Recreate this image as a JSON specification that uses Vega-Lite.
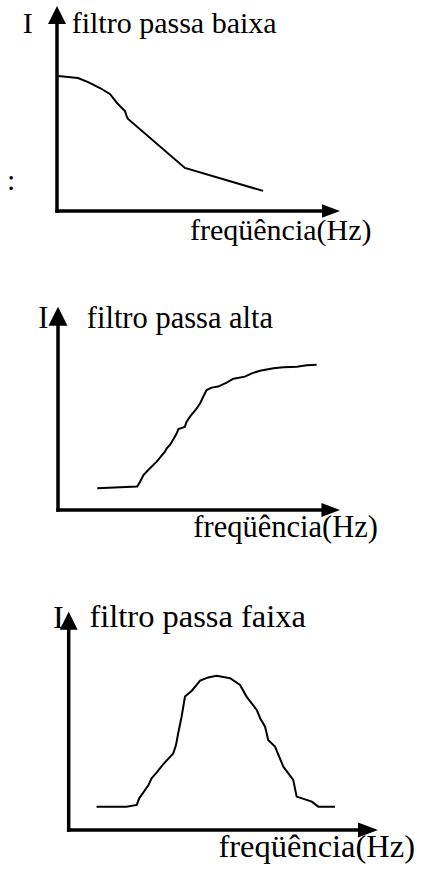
{
  "$schema": "https://vega.github.io/schema/vega-lite/v6.json",
  "background": "white",
  "padding": 0,
  "spacing": 0,
  "config": {"view": {"stroke": null}},
  "vconcat": [
    {
      "width": 425,
      "height": 275,
      "encoding": {
        "x": {"field": "f", "type": "quantitative", "axis": null, "scale": {"domain": [-20.14, 130.04], "nice": false, "zero": false}},
        "y": {"field": "i", "type": "quantitative", "axis": null, "scale": {"domain": [-31.22, 102.93], "nice": false, "zero": false}}
      },
      "layer": [
        {
          "data": {"values": [{"f": 0, "i": 0, "f2": 0, "i2": 95}, {"f": 0, "i": 0, "f2": 96, "i2": 0}]},
          "mark": {"type": "rule", "color": "black", "strokeWidth": 3.5, "strokeCap": "square"},
          "encoding": {"x2": {"field": "f2"}, "y2": {"field": "i2"}}
        },
        {
          "data": {"values": [{"f": 0, "i": 100}]},
          "mark": {"type": "point", "shape": "M0,0L1,2L-1,2Z", "filled": true, "size": 324, "color": "black", "opacity": 1, "strokeWidth": 0}
        },
        {
          "data": {"values": [{"f": 100, "i": 0}]},
          "mark": {"type": "point", "shape": "M0,0L-2.4,-0.9L-2.4,0.9Z", "filled": true, "size": 225, "color": "black", "opacity": 1, "strokeWidth": 0}
        },
        {
          "data": {"values": [
            {"f": 0.4, "i": 65.9}, {"f": 7.4, "i": 64.9}, {"f": 11.0, "i": 62.9}, {"f": 15.2, "i": 60.0},
            {"f": 18.7, "i": 57.1}, {"f": 21.2, "i": 52.7}, {"f": 24.0, "i": 48.8}, {"f": 24.7, "i": 45.9},
            {"f": 25.1, "i": 44.9}, {"f": 45.2, "i": 21.0}, {"f": 72.8, "i": 9.8}
          ]},
          "mark": {"type": "line", "color": "black", "strokeWidth": 2}
        },
        {
          "data": {"values": [
            {"label": "I", "f": -12.1, "i": 87.0},
            {"label": "filtro passa baixa", "f": 5.2, "i": 86.8},
            {"label": ":", "f": -17.7, "i": 10.2},
            {"label": "freqüência(Hz)", "f": 47.0, "i": -14.1}
          ]},
          "mark": {"type": "text", "font": "Liberation Serif, Times New Roman, DejaVu Serif, serif", "fontSize": 30, "align": "left", "baseline": "alphabetic", "color": "black"},
          "encoding": {"text": {"field": "label"}}
        }
      ]
    },
    {
      "width": 425,
      "height": 300,
      "encoding": {
        "x": {"field": "f", "type": "quantitative", "axis": null, "scale": {"domain": [-20.57, 130.14], "nice": false, "zero": false}},
        "y": {"field": "i", "type": "quantitative", "axis": null, "scale": {"domain": [-31.97, 115.59], "nice": false, "zero": false}}
      },
      "layer": [
        {
          "data": {"values": [{"f": 0, "i": 0, "f2": 0, "i2": 95.5}, {"f": 0, "i": 0, "f2": 96.8, "i2": 0}]},
          "mark": {"type": "rule", "color": "black", "strokeWidth": 3.5, "strokeCap": "square"},
          "encoding": {"x2": {"field": "f2"}, "y2": {"field": "i2"}}
        },
        {
          "data": {"values": [{"f": 0, "i": 100}]},
          "mark": {"type": "point", "shape": "M0,0L1,2L-1,2Z", "filled": true, "size": 361, "color": "black", "opacity": 1, "strokeWidth": 0}
        },
        {
          "data": {"values": [{"f": 100, "i": 0}]},
          "mark": {"type": "point", "shape": "M0,0L-2.4,-0.9L-2.4,0.9Z", "filled": true, "size": 240, "color": "black", "opacity": 1, "strokeWidth": 0}
        },
        {
          "data": {"values": [
            {"f": 13.9, "i": 10.7}, {"f": 28.1, "i": 11.5}, {"f": 29.1, "i": 13.9}, {"f": 30.3, "i": 17.2},
            {"f": 32.0, "i": 19.7}, {"f": 35.0, "i": 23.8}, {"f": 37.9, "i": 28.7}, {"f": 38.6, "i": 30.4},
            {"f": 39.7, "i": 32.0}, {"f": 40.9, "i": 34.8}, {"f": 42.1, "i": 37.7}, {"f": 42.7, "i": 39.8},
            {"f": 44.2, "i": 40.5}, {"f": 45.0, "i": 41.0}, {"f": 45.6, "i": 43.4}, {"f": 46.8, "i": 45.9},
            {"f": 49.2, "i": 50.0}, {"f": 50.4, "i": 52.5}, {"f": 51.5, "i": 55.7}, {"f": 52.7, "i": 59.0},
            {"f": 54.5, "i": 60.2}, {"f": 56.8, "i": 60.7}, {"f": 59.8, "i": 62.6}, {"f": 62.2, "i": 64.6},
            {"f": 66.3, "i": 65.6}, {"f": 68.7, "i": 67.2}, {"f": 71.6, "i": 68.5}, {"f": 76.4, "i": 69.7},
            {"f": 79.9, "i": 70.2}, {"f": 84.7, "i": 70.5}, {"f": 88.2, "i": 71.2}, {"f": 91.7, "i": 71.5}
          ]},
          "mark": {"type": "line", "color": "black", "strokeWidth": 2}
        },
        {
          "data": {"values": [
            {"label": "I", "f": -7.0, "i": 89.5},
            {"label": "filtro passa alta", "f": 10.2, "i": 89.5},
            {"label": "freqüência(Hz)", "f": 48.0, "i": -13.1}
          ]},
          "mark": {"type": "text", "font": "Liberation Serif, Times New Roman, DejaVu Serif, serif", "fontSize": 30.5, "align": "left", "baseline": "alphabetic", "color": "black"},
          "encoding": {"text": {"field": "label"}}
        }
      ]
    },
    {
      "width": 425,
      "height": 294,
      "encoding": {
        "x": {"field": "f", "type": "quantitative", "axis": null, "scale": {"domain": [-22.21, 115.2], "nice": false, "zero": false}},
        "y": {"field": "i", "type": "quantitative", "axis": null, "scale": {"domain": [-17.87, 116.81], "nice": false, "zero": false}}
      },
      "layer": [
        {
          "data": {"values": [{"f": 0, "i": 0, "f2": 0, "i2": 96}, {"f": 0, "i": 0, "f2": 96.5, "i2": 0}]},
          "mark": {"type": "rule", "color": "black", "strokeWidth": 3.5, "strokeCap": "square"},
          "encoding": {"x2": {"field": "f2"}, "y2": {"field": "i2"}}
        },
        {
          "data": {"values": [{"f": 0, "i": 100}]},
          "mark": {"type": "point", "shape": "M0,0L1,2L-1,2Z", "filled": true, "size": 324, "color": "black", "opacity": 1, "strokeWidth": 0}
        },
        {
          "data": {"values": [{"f": 100, "i": 0}]},
          "mark": {"type": "point", "shape": "M0,0L-2.4,-0.9L-2.4,0.9Z", "filled": true, "size": 278, "color": "black", "opacity": 1, "strokeWidth": 0}
        },
        {
          "data": {"values": [
            {"f": 9.0, "i": 10.7}, {"f": 18.7, "i": 10.7}, {"f": 22.0, "i": 11.5}, {"f": 22.8, "i": 14.5},
            {"f": 24.1, "i": 17.1}, {"f": 25.8, "i": 20.6}, {"f": 26.8, "i": 23.7}, {"f": 28.4, "i": 26.3},
            {"f": 30.6, "i": 30.2}, {"f": 33.8, "i": 35.1}, {"f": 34.7, "i": 38.9}, {"f": 35.4, "i": 44.3},
            {"f": 36.5, "i": 51.9}, {"f": 37.6, "i": 61.1}, {"f": 39.8, "i": 63.8}, {"f": 42.5, "i": 68.4},
            {"f": 45.1, "i": 69.9}, {"f": 47.8, "i": 70.6}, {"f": 52.2, "i": 69.5}, {"f": 55.4, "i": 66.4},
            {"f": 57.5, "i": 61.1}, {"f": 60.8, "i": 55.0}, {"f": 61.9, "i": 51.2}, {"f": 63.5, "i": 47.3},
            {"f": 64.5, "i": 41.2}, {"f": 66.7, "i": 38.2}, {"f": 69.4, "i": 29.0}, {"f": 72.6, "i": 22.9},
            {"f": 73.7, "i": 15.3}, {"f": 78.6, "i": 13.0}, {"f": 80.7, "i": 10.7}, {"f": 86.1, "i": 10.7}
          ]},
          "mark": {"type": "line", "color": "black", "strokeWidth": 2}
        },
        {
          "data": {"values": [
            {"label": "I", "f": -5.1, "i": 92.7},
            {"label": "filtro passa faixa", "f": 6.7, "i": 93.0},
            {"label": "freqüência(Hz)", "f": 48.4, "i": -12.2}
          ]},
          "mark": {"type": "text", "font": "Liberation Serif, Times New Roman, DejaVu Serif, serif", "fontSize": 32.5, "align": "left", "baseline": "alphabetic", "color": "black"},
          "encoding": {"text": {"field": "label"}}
        }
      ]
    }
  ]
}
